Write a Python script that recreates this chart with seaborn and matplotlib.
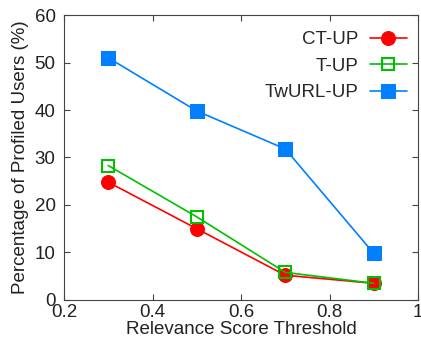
import numpy as np
import pandas as pd
import seaborn as sns
import matplotlib.pyplot as plt

sns.set_theme(style="ticks")
plt.rcParams["font.family"] = ["Liberation Sans", "DejaVu Sans"]

thresholds = [0.3, 0.5, 0.7, 0.9]
ct_up = [24.8, 15.0, 5.2, 3.5]
t_up = [28.3, 17.5, 5.8, 3.5]
twurl_up = [51.0, 39.8, 31.8, 9.8]

series = {
    "CT-UP": (ct_up, dict(color="#ff0000", marker="o", markersize=10,
                          markeredgecolor="#ff0000")),
    "T-UP": (t_up, dict(color="#00c000", marker="s", markersize=9,
                        markerfacecolor="none", markeredgecolor="#00c000",
                        markeredgewidth=1.5)),
    "TwURL-UP": (twurl_up, dict(color="#0080ff", marker="s", markersize=10,
                                markeredgecolor="#0080ff")),
}

fig = plt.figure(figsize=(4.21, 3.42), dpi=100)
ax = fig.add_axes([0.152, 0.123, 0.841, 0.833])

for name, (vals, style) in series.items():
    df = pd.DataFrame({"x": thresholds, "y": vals})
    sns.lineplot(data=df, x="x", y="y", ax=ax, label=name, linewidth=1.2, **style)

ax.set_xlim(0.2, 1.0)
ax.set_ylim(0, 60)
ax.set_xticks([0.2, 0.4, 0.6, 0.8, 1.0])
ax.set_xticklabels(["0.2", "0.4", "0.6", "0.8", "1"])
ax.set_yticks(range(0, 61, 10))
ax.tick_params(direction="in", top=True, right=True, labelsize=13.5, length=4,
               width=0.8, color="#444444", labelcolor="#222222")
ax.tick_params(axis="y", pad=6)
ax.tick_params(axis="x", pad=3)
for sp in ax.spines.values():
    sp.set_color("#444444")
    sp.set_linewidth(0.8)

ax.set_xlabel("Relevance Score Threshold", fontsize=13.5, color="#222222", labelpad=0)
ax.set_ylabel("Percentage of Profiled Users (%)", fontsize=13.5, color="#222222", labelpad=4)

ax.legend(loc="upper right", bbox_to_anchor=(0.99, 0.97), frameon=False,
          markerfirst=False, fontsize=13.5, handlelength=2.0, labelspacing=0.5,
          borderaxespad=0, handletextpad=0.6)

fig.savefig("out.png", dpi=100)
